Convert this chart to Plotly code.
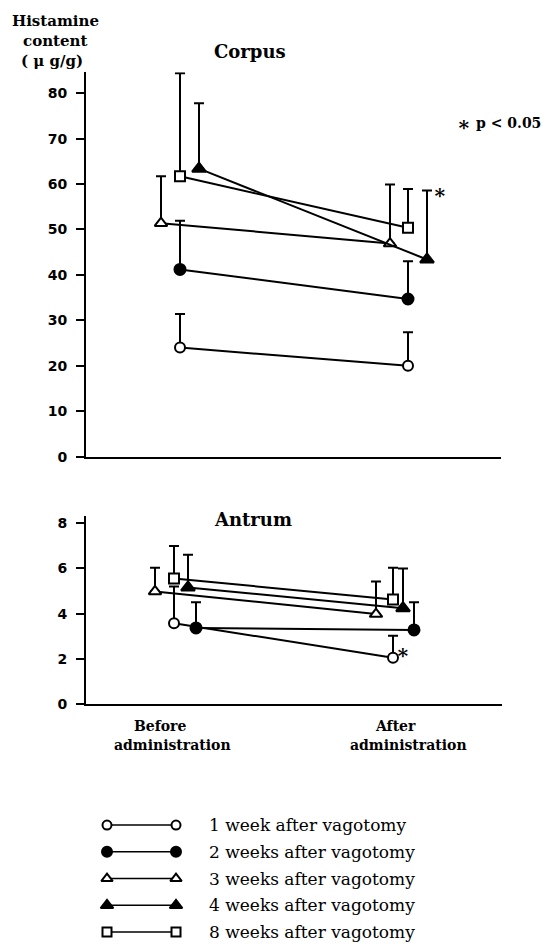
import plotly.graph_objects as go

# ---------------- data ----------------
groups = ["1 week after vagotomy", "2 weeks after vagotomy", "3 weeks after vagotomy",
          "4 weeks after vagotomy", "8 weeks after vagotomy"]
time_labels = ["Before", "After"]

corpus_before = [24.0, 41.2, 51.4, 63.4, 61.7]
corpus_before_sd = [7.4, 10.7, 10.3, 14.4, 22.7]
corpus_after = [20.0, 34.7, 46.9, 43.4, 50.4]
corpus_after_sd = [7.4, 8.3, 13.0, 15.2, 8.5]

antrum_before = [3.58, 3.37, 4.98, 5.16, 5.55]
antrum_before_sd = [1.62, 1.13, 1.05, 1.44, 1.44]
antrum_after = [2.05, 3.28, 3.98, 4.24, 4.63]
antrum_after_sd = [0.97, 1.22, 1.44, 1.75, 1.40]

corpus_ticks = [0, 10, 20, 30, 40, 50, 60, 70, 80]
antrum_ticks = [0, 2, 4, 6, 8]

# ---------------- styles ----------------
W, H = 545, 947
symbols = ["circle", "circle", "triangle-up", "triangle-up", "square"]
fills = ["white", "black", "white", "black", "white"]
sizes = [10, 11, 11, 12, 10]
# horizontal jitter (pixels) so overlapping groups stay visible
corpus_off_before = [0, 0, -19, 19, 0]
corpus_off_after = [0, 0, -18, 19, 0]
antrum_off_before = [0, 22, -19, 14, 0]
antrum_off_after = [0, 21, -17, 10, 0]
corpus_pxu = 228.0
antrum_pxu = 219.0

SERIF = "DejaVu Serif"
SANS = "DejaVu Sans"


def px(x):
    return x / W


def py(y):
    return 1 - y / H


fig = go.Figure()


def add_panel(before, bsd, after, asd, offb, offa, pxu, xa, ya):
    for i in range(len(groups)):
        xs = [1 + offb[i] / pxu, 2 + offa[i] / pxu]
        fig.add_trace(go.Scatter(
            x=xs, y=[before[i], after[i]], mode="lines+markers",
            xaxis=xa, yaxis=ya, showlegend=False,
            line=dict(color="black", width=2),
            marker=dict(symbol=symbols[i], size=sizes[i], color=fills[i],
                        line=dict(color="black", width=2)),
            error_y=dict(type="data", symmetric=False, array=[bsd[i], asd[i]],
                         arrayminus=[0, 0], color="black", thickness=2, width=5),
            cliponaxis=False,
        ))


add_panel(corpus_before, corpus_before_sd, corpus_after, corpus_after_sd,
          corpus_off_before, corpus_off_after, corpus_pxu, "x", "y")
add_panel(antrum_before, antrum_before_sd, antrum_after, antrum_after_sd,
          antrum_off_before, antrum_off_after, antrum_pxu, "x2", "y2")

# ---------------- legend (drawn on a pixel-space helper axis) ----------------
leg_y0, leg_dy = 832, 27
for i, g in enumerate(groups):
    yy = leg_y0 + i * leg_dy
    fig.add_trace(go.Scatter(
        x=[107, 176], y=[yy, yy], mode="lines+markers", xaxis="x3", yaxis="y3",
        showlegend=False, line=dict(color="black", width=1.5),
        marker=dict(symbol=symbols[i], size=sizes[i] - 1, color=fills[i],
                    line=dict(color="black", width=2)),
        cliponaxis=False, hoverinfo="skip"))

annotations = []
for i, g in enumerate(groups):
    annotations.append(dict(x=px(207), y=py(leg_y0 + i * leg_dy), xref="paper", yref="paper",
                            text=g, showarrow=False, xanchor="left", yanchor="middle",
                            font=dict(family=SERIF, size=17, color="black")))


def lab(x, y, t, size=14, anchor="center"):
    return dict(x=px(x), y=py(y), xref="paper", yref="paper", text=t, showarrow=False,
                xanchor=anchor, yanchor="middle", font=dict(family=SERIF, size=size, color="black"))


annotations += [
    lab(250, 51, "<b>Corpus</b>", 18),
    lab(253, 523, "<b>Antrum</b>", 18),
    lab(55, 20, "<b>Histamine</b>", 15),
    lab(55, 40, "<b>content</b>", 15),
    lab(52, 61, "<b>( μ g/g)</b>", 15),
    lab(455, 124, "<b><span style='font-size:20px'>∗</span></b>", 14, "left"),
    lab(474, 123, "<b>p < 0.05</b>", 14, "left"),
    lab(160, 732, "<b>Before</b>", 14),
    lab(172, 751, "<b>administration</b>", 14),
    lab(395, 732, "<b>After</b>", 14),
    lab(408, 751, "<b>administration</b>", 14),
]

# significance asterisks next to the data points
annotations.append(dict(x=2 + corpus_off_after[3] / corpus_pxu,
                        y=corpus_after[3] + corpus_after_sd[3], xref="x", yref="y",
                        text="<b>∗</b>", showarrow=False, xshift=13, yshift=-2,
                        font=dict(family=SERIF, size=20, color="black")))
annotations.append(dict(x=2 + antrum_off_after[0] / antrum_pxu,
                        y=antrum_after[0], xref="x2", yref="y2",
                        text="<b>∗</b>", showarrow=False, xshift=10, yshift=6,
                        font=dict(family=SERIF, size=20, color="black")))

axis_common = dict(showgrid=False, zeroline=False, showline=True, linecolor="black",
                   linewidth=2)
tickfont = dict(family=SANS, size=14, color="black", weight="bold")

fig.update_layout(
    width=W, height=H, margin=dict(l=0, r=0, t=0, b=0),
    paper_bgcolor="white", plot_bgcolor="rgba(0,0,0,0)",
    xaxis=dict(domain=[86 / W, 501 / W], range=[1 - 94 / corpus_pxu, 2 + 93 / corpus_pxu],
               showticklabels=False, ticks="", anchor="y", **axis_common),
    yaxis=dict(domain=[1 - 460 / H, 1 - 72 / H], range=[0, 84.6], tickvals=corpus_ticks,
               ticks="outside", ticklen=8, tickwidth=2, tickcolor="black",
               ticklabelstandoff=6, tickfont=tickfont, anchor="x", **axis_common),
    xaxis2=dict(domain=[86 / W, 502 / W], range=[1 - 88 / antrum_pxu, 2 + 109 / antrum_pxu],
                showticklabels=False, ticks="", anchor="y2", **axis_common),
    yaxis2=dict(domain=[1 - 710 / H, 1 - 520 / H], range=[0, 8.31], tickvals=antrum_ticks,
                ticks="outside", ticklen=8, tickwidth=2, tickcolor="black",
                ticklabelstandoff=6, tickfont=tickfont, anchor="x2", **axis_common),
    xaxis3=dict(domain=[0, 1], range=[0, W], visible=False, anchor="y3"),
    yaxis3=dict(domain=[0, 1], range=[H, 0], visible=False, anchor="x3"),
    annotations=annotations,
)

fig.write_html("out.html")
